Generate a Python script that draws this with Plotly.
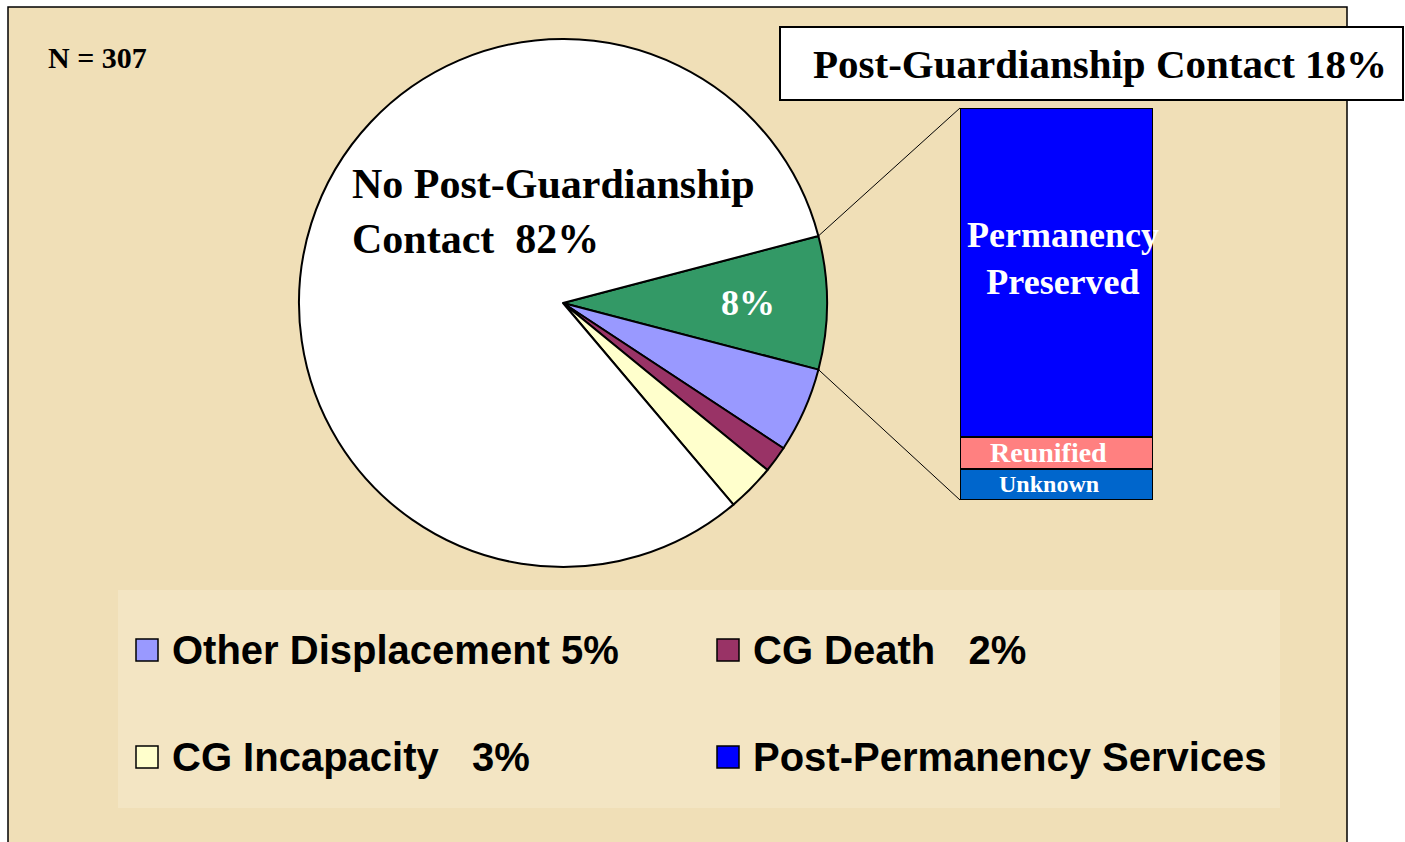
import math
import plotly.graph_objects as go

# ---------------- data ----------------
pie_labels = ["Post-Guardianship Contact (Permanency)", "Other Displacement", "CG Death",
              "CG Incapacity", "No Post-Guardianship Contact"]
pie_values = [25, 16, 5, 9, 252]          # N = 307
pie_colors = ["#339966", "#9999FF", "#993366", "#FFFFCC", "#FFFFFF"]
green_label = "8%"

bar_labels = ["Unknown", "Reunified", "Permanency<br>Preserved"]
bar_values = [2, 2, 21]
bar_colors = ["#0066CC", "#FF8080", "#0000FF"]
bar_text_sizes = [24, 28, 36]

legend_labels = ["Other Displacement 5%", "CG Death   2%",
                 "CG Incapacity   3%", "Post-Permanency Services"]
legend_colors = ["#9999FF", "#993366", "#FFFFCC", "#0000FF"]

title_text = "Post-Guardianship Contact 18%"
big_label = "No Post-Guardianship<br>Contact  82%"
n_text = "N = 307"

# ---------------- layout helpers ----------------
W, H = 1405, 842
def px(x): return x / W
def py(y): return 1 - y / H

SERIF = "Liberation Serif, Times New Roman, serif"
SANS = "Liberation Sans, Arial, sans-serif"

cx, cy, r = 563, 303, 264
rotation = 75.3

bar_x0, bar_x1, bar_y0, bar_y1 = 960, 1153, 108, 500

fig = go.Figure()

fig.add_trace(go.Pie(
    labels=pie_labels, values=pie_values, sort=False, direction="clockwise",
    rotation=rotation, marker=dict(colors=pie_colors, line=dict(color="black", width=2)),
    textinfo="none",
    domain=dict(x=[px(cx - r), px(cx + r)], y=[py(cy + r), py(cy - r)]),
    showlegend=False, hoverinfo="label+value",
))

for lab, val, col in zip(bar_labels, bar_values, bar_colors):
    fig.add_trace(go.Bar(
        x=[0], y=[val], marker=dict(color=col, line=dict(color="black", width=2)),
        width=1, showlegend=False, name=lab.replace("<br>", " "),
        xaxis="x", yaxis="y",
    ))

shapes = []
annotations = []

def ann(text, x, y, size, family, color="black", xanchor="center", **kw):
    annotations.append(dict(text=text, xref="paper", yref="paper", x=px(x), y=py(y),
                            xanchor=xanchor, yanchor="middle", showarrow=False,
                            font=dict(family=family, size=size, color=color), **kw))

# background panel
shapes.append(dict(type="rect", xref="paper", yref="paper", x0=px(8), x1=px(1347),
                   y0=py(850), y1=py(7), fillcolor="#F0DFB7",
                   line=dict(color="black", width=1.5), layer="below"))
# lighter legend area
shapes.append(dict(type="rect", xref="paper", yref="paper", x0=px(118), x1=px(1280),
                   y0=py(808), y1=py(590), fillcolor="#F3E5C3",
                   line=dict(width=0), layer="below"))

# connector lines from green slice edges to bar corners
total = sum(pie_values)
a0 = math.radians(rotation)
a1 = math.radians(rotation + 360 * pie_values[0] / total)
for ang, (bx, by) in [(a0, (bar_x0, bar_y0)), (a1, (bar_x0, bar_y1))]:
    sx = cx + r * math.sin(ang)
    sy = cy - r * math.cos(ang)
    shapes.append(dict(type="line", xref="paper", yref="paper",
                       x0=px(sx), y0=py(sy), x1=px(bx), y1=py(by),
                       line=dict(color="black", width=1)))

# green slice label, placed at 70% radius on the slice bisector
am = (a0 + a1) / 2
ann(f"<b>{green_label}</b>", cx + 0.70 * r * math.sin(am), cy - 0.70 * r * math.cos(am),
    36, SERIF, color="white")

# title box
shapes.append(dict(type="rect", xref="paper", yref="paper", x0=px(780), x1=px(1403),
                   y0=py(100), y1=py(27), fillcolor="white",
                   line=dict(color="black", width=2)))
ann(f"<b>{title_text}</b>", 1100, 64, 41, SERIF)

# N label
ann(f"<b>{n_text}</b>", 46, 57, 30, SERIF, xanchor="left")

# big slice label
ann(f"<b>{big_label}</b>", 350, 211, 42, SERIF, xanchor="left", align="left")

# bar labels
cum = 0
for lab, val, fs in zip(bar_labels, bar_values, bar_text_sizes):
    mid = cum + val / 2
    cum += val
    big = val > 5
    annotations.append(dict(text=f"<b>{lab}</b>", xref="x", yref="y", x=0, y=mid,
                            xanchor="center", yanchor="middle",
                            showarrow=False, yshift=14 if big else 0,
                            xshift=6 if big else -8,
                            font=dict(family=SERIF, size=fs, color="white")))

# legend (manual)
col_x = [136, 717]
row_y = [650, 757]
for i, (lab, col) in enumerate(zip(legend_labels, legend_colors)):
    x = col_x[i % 2]
    y = row_y[i // 2]
    shapes.append(dict(type="rect", xref="paper", yref="paper",
                       x0=px(x), x1=px(x + 22), y0=py(y + 11), y1=py(y - 11),
                       fillcolor=col, line=dict(color="black", width=1.5)))
    ann(f"<b>{lab}</b>", x + 34, y, 40, SANS, xanchor="left")

fig.update_layout(
    width=W, height=H, margin=dict(l=0, r=0, t=0, b=0),
    paper_bgcolor="white", plot_bgcolor="rgba(0,0,0,0)",
    barmode="stack", bargap=0,
    xaxis=dict(domain=[px(bar_x0), px(bar_x1)], range=[-0.5, 0.5], visible=False,
               fixedrange=True),
    yaxis=dict(domain=[py(bar_y1), py(bar_y0)], range=[0, sum(bar_values)],
               visible=False, fixedrange=True),
    shapes=shapes, annotations=annotations,
)

fig.write_html("out.html", config={"displayModeBar": False},
               post_script="document.body.style.margin='0px';document.body.style.overflow='hidden';")
